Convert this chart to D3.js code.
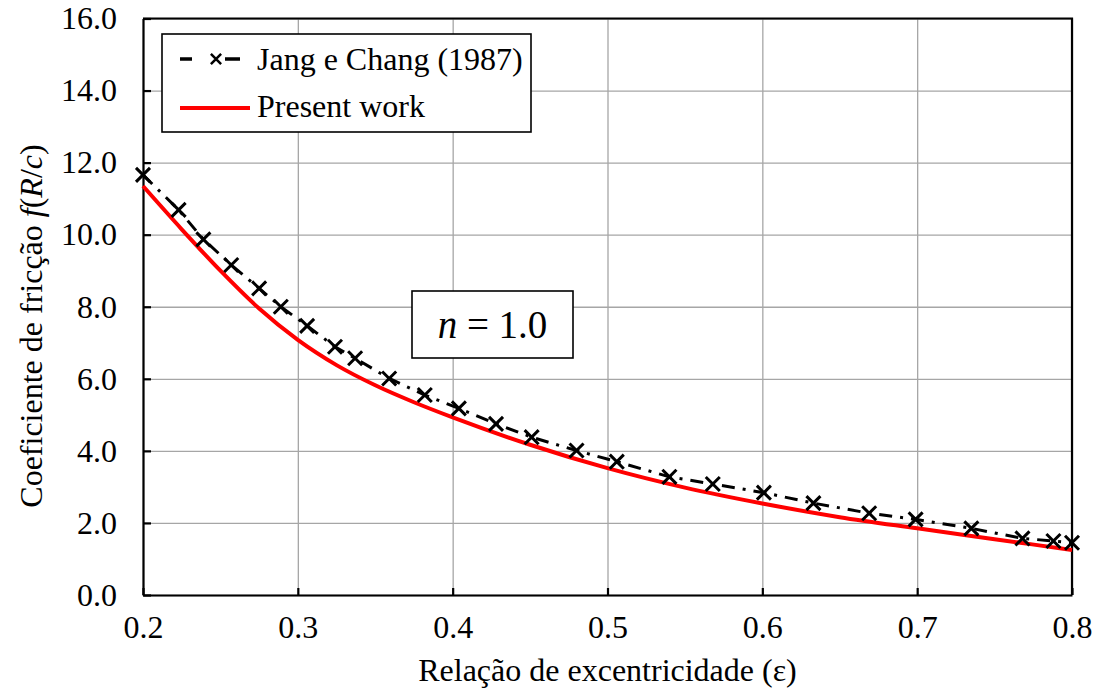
<!DOCTYPE html>
<html lang="pt">
<head>
<meta charset="UTF-8">
<title>Coeficiente de fricção</title>
<script src="https://d3js.org/d3.v7.min.js"></script>
<style>
    body { margin: 0; background: #fff; }
    svg text { font-family: "Liberation Serif", "Times New Roman", Tinos, "DejaVu Serif", serif; }
</style>
</head>
<body>
<script>
    // data
    const jangX = [0.200, 0.223, 0.239, 0.257, 0.275, 0.289, 0.306, 0.324, 0.337, 0.359, 0.382, 0.404, 0.428,
        0.451, 0.480, 0.506, 0.540, 0.568, 0.601, 0.633, 0.669, 0.699, 0.735, 0.768, 0.788, 0.800];
    const jangY = [11.66, 10.69, 9.87, 9.16, 8.51, 8.00, 7.47, 6.89, 6.57, 6.01, 5.55, 5.18, 4.75,
        4.38, 4.01, 3.70, 3.28, 3.08, 2.84, 2.55, 2.27, 2.10, 1.85, 1.57, 1.50, 1.45];

    const presentX = [0.200, 0.225, 0.250, 0.275, 0.300, 0.325, 0.350, 0.375, 0.400, 0.450, 0.500,
        0.550, 0.600, 0.650, 0.700, 0.750, 0.800];
    const presentY = [11.35, 10.15, 9.00, 7.95, 7.08, 6.38, 5.82, 5.35, 4.93, 4.17, 3.52,
        2.98, 2.54, 2.16, 1.85, 1.55, 1.25];

    const xTicks = [0.2, 0.3, 0.4, 0.5, 0.6, 0.7, 0.8];
    const yTicks = [0, 2, 4, 6, 8, 10, 12, 14, 16];
    const seriesNames = ["Jang e Chang (1987)", "Present work"];

    const W = 1099, H = 690;
    const margin = { top: 18.5, right: 27, bottom: 95, left: 143 };
    const width = W - margin.left - margin.right;
    const height = H - margin.top - margin.bottom;

    const svg = d3.select("body").append("svg")
        .attr("width", W)
        .attr("height", H);

    const g = svg.append("g")
        .attr("transform", `translate(${margin.left},${margin.top})`);

    const x = d3.scaleLinear().domain([0.2, 0.8]).range([0, width]);
    const y = d3.scaleLinear().domain([0, 16]).range([height, 0]);

    // gridlines
    g.append("g")
        .attr("transform", `translate(0,${height})`)
        .call(d3.axisBottom(x).tickValues(xTicks).tickSize(-height).tickFormat(""))
        .call(a => a.select(".domain").remove())
        .call(a => a.selectAll("line").attr("stroke", "#a6a6a6").attr("stroke-width", 1.3));
    g.append("g")
        .call(d3.axisLeft(y).tickValues(yTicks).tickSize(-width).tickFormat(""))
        .call(a => a.select(".domain").remove())
        .call(a => a.selectAll("line").attr("stroke", "#a6a6a6").attr("stroke-width", 1.3));

    // axes with inner ticks
    const xAxis = g.append("g")
        .attr("transform", `translate(0,${height})`)
        .call(d3.axisBottom(x).tickValues(xTicks).tickSizeInner(-7).tickSizeOuter(0).tickPadding(20)
            .tickFormat(d3.format(".1f")));
    const yAxis = g.append("g")
        .call(d3.axisLeft(y).tickValues(yTicks).tickSizeInner(-8).tickSizeOuter(0).tickPadding(26)
            .tickFormat(d3.format(".1f")));
    [xAxis, yAxis].forEach(a => {
        a.attr("font-family", null);
        a.select(".domain").attr("stroke", "#000").attr("stroke-width", 2.2);
        a.selectAll(".tick line").attr("stroke", "#000").attr("stroke-width", 2.2);
        a.selectAll("text").attr("font-size", 32).attr("fill", "#000");
    });

    // top and right border
    g.append("path")
        .attr("d", `M0,0H${width}V${height}`)
        .attr("fill", "none")
        .attr("stroke", "#000")
        .attr("stroke-width", 2.2);

    const jang = jangX.map((v, i) => ({ x: v, y: jangY[i] }));
    const present = presentX.map((v, i) => ({ x: v, y: presentY[i] }));

    const line = d3.line().x(d => x(d.x)).y(d => y(d.y));

    g.append("path")
        .datum(jang)
        .attr("fill", "none")
        .attr("stroke", "#000")
        .attr("stroke-width", 3)
        .attr("stroke-dasharray", "13,8,3,8")
        .attr("d", line);

    g.append("path")
        .datum(present)
        .attr("fill", "none")
        .attr("stroke", "#ff0000")
        .attr("stroke-width", 4)
        .attr("d", line.curve(d3.curveMonotoneX));

    const cross = d3.symbol().type(d3.symbolTimes).size(130);
    g.selectAll(".mk")
        .data(jang)
        .join("path")
        .attr("class", "mk")
        .attr("transform", d => `translate(${x(d.x)},${y(d.y)})`)
        .attr("d", cross)
        .attr("fill", "none")
        .attr("stroke", "#000")
        .attr("stroke-width", 3);

    // legend
    const legend = svg.append("g").attr("transform", "translate(162,34)");
    legend.append("rect")
        .attr("width", 369).attr("height", 98)
        .attr("fill", "#fff").attr("stroke", "#000").attr("stroke-width", 1.6);
    legend.append("line")
        .attr("x1", 18).attr("x2", 78).attr("y1", 25).attr("y2", 25)
        .attr("stroke", "#000").attr("stroke-width", 3.5).attr("stroke-dasharray", "12,33,15");
    legend.append("path")
        .attr("transform", "translate(54,25)")
        .attr("d", d3.symbol().type(d3.symbolTimes).size(70))
        .attr("fill", "none").attr("stroke", "#000").attr("stroke-width", 2.5);
    legend.append("line")
        .attr("x1", 18).attr("x2", 88).attr("y1", 74).attr("y2", 74)
        .attr("stroke", "#ff0000").attr("stroke-width", 4);
    legend.selectAll(".lt")
        .data(seriesNames)
        .join("text")
        .attr("x", 95)
        .attr("y", (d, i) => 36 + i * 47)
        .attr("font-size", 32)
        .text(d => d);

    // annotation box
    const note = svg.append("g").attr("transform", "translate(412,291)");
    note.append("rect")
        .attr("width", 161).attr("height", 67)
        .attr("fill", "#fff").attr("stroke", "#000").attr("stroke-width", 1.6);
    const nt = note.append("text")
        .attr("x", 80.5).attr("y", 47)
        .attr("text-anchor", "middle")
        .attr("font-size", 39);
    nt.append("tspan").attr("font-style", "italic").text("n");
    nt.append("tspan").text(" = 1.0");

    // axis titles
    svg.append("text")
        .attr("x", margin.left + width / 2)
        .attr("y", 681)
        .attr("text-anchor", "middle")
        .attr("font-size", 32)
        .text("Relação de excentricidade (ε)");

    const yt = svg.append("text")
        .attr("transform", "translate(42,326) rotate(-90)")
        .attr("text-anchor", "middle")
        .attr("font-size", 32);
    yt.append("tspan").text("Coeficiente de fricção ");
    yt.append("tspan").attr("font-style", "italic").text("f");
    yt.append("tspan").text("(");
    yt.append("tspan").attr("font-style", "italic").text("R");
    yt.append("tspan").text("/");
    yt.append("tspan").attr("font-style", "italic").text("c");
    yt.append("tspan").text(")");
</script>
</body>
</html>
